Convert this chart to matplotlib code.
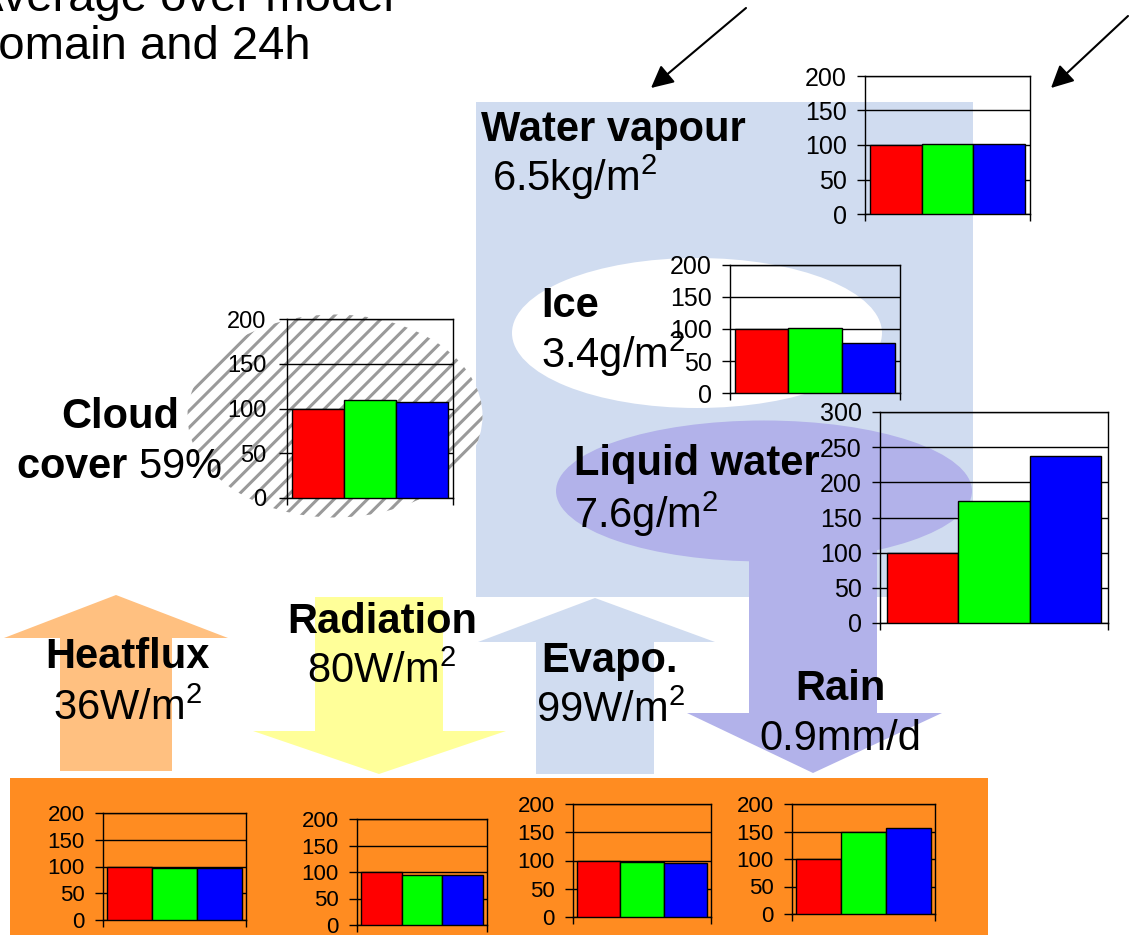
import matplotlib.pyplot as plt
from matplotlib.patches import Ellipse, Polygon, Rectangle

W, H = 1135, 935

# relative values (first run = 100) for the three runs
series_colors = ['#FF0000', '#00FF00', '#0000FF']
vapour_vals = [100, 102, 102]
ice_vals = [100, 101, 78]
liquid_vals = [100, 173, 237]
cloud_vals = [100, 110, 107]
heatflux_vals = [100, 98, 97]
radiation_vals = [100, 94, 94]
evapo_vals = [100, 97, 96]
rain_vals = [100, 149, 156]

plt.rcParams['font.family'] = ['Liberation Sans', 'DejaVu Sans']
plt.rcParams['mathtext.fontset'] = 'custom'
plt.rcParams['mathtext.rm'] = 'Liberation Sans'
plt.rcParams['mathtext.bf'] = 'Liberation Sans:bold'
plt.rcParams['hatch.linewidth'] = 2.2
plt.rcParams['hatch.color'] = '#9a9a9a'

fig = plt.figure(figsize=(W / 100, H / 100), dpi=100)
bg = fig.add_axes([0, 0, 1, 1])
bg.set_xlim(0, W)
bg.set_ylim(H, 0)
bg.axis('off')


def block_arrow(x0, x1, hx0, hx1, tail, base, tip, color):
    xm = (x0 + x1) / 2
    pts = [(x0, tail), (x0, base), (hx0, base), (xm, tip),
           (hx1, base), (x1, base), (x1, tail)]
    bg.add_patch(Polygon(pts, closed=True, fc=color, ec='none'))


# atmosphere column and its water species
bg.add_patch(Rectangle((476, 102), 497, 495, fc='#D0DCF0', ec='none'))
bg.add_patch(Ellipse((697, 333), 370, 150, fc='white', ec='none'))
bg.add_patch(Ellipse((764, 491), 416, 141, fc='#B2B2EA', ec='none'))
block_arrow(749, 877, 687, 942, 540, 713, 773, '#B2B2EA')

# surface fluxes
block_arrow(60, 172, 4, 228, 771, 638, 595, '#FFC080')
block_arrow(315, 443, 253, 506, 597, 731, 774, '#FFFF99')
block_arrow(536, 654, 478, 715, 774, 642, 598, '#D0DCF0')

# ground
bg.add_patch(Rectangle((10, 778), 978, 160, fc='#FF8C21', ec='none'))

# cloud cover
bg.add_patch(Ellipse((335, 416), 295, 203, fc='white', ec='none'))
bg.add_patch(Ellipse((335, 416), 295, 203, fc='none', ec='#9a9a9a',
                     lw=0, hatch='//'))

for start, tip in [((746, 8), (651, 88)), ((1128, 16), (1051, 88))]:
    bg.annotate('', xy=tip, xytext=start,
                arrowprops=dict(arrowstyle='-|>', color='black', lw=1.5,
                                mutation_scale=34, shrinkA=0, shrinkB=0))

big = 30
bg.text(-28, 11, 'Average over model', fontsize=34, va='baseline')
bg.text(-28, 59, 'domain and 24h', fontsize=34, va='baseline')

bg.text(481, 141, 'Water vapour', fontsize=big, weight='bold', va='baseline')
bg.text(492, 191, '6.5kg/m$^{2}$', fontsize=big, va='baseline')
bg.text(541, 317, 'Ice', fontsize=big, weight='bold', va='baseline')
bg.text(541, 368, '3.4g/m$^{2}$', fontsize=big, va='baseline')
bg.text(574, 475, 'Liquid water', fontsize=big, weight='bold', va='baseline')
bg.text(574, 528, '7.6g/m$^{2}$', fontsize=big, va='baseline')
bg.text(120, 428, 'Cloud', fontsize=big, weight='bold', ha='center',
        va='baseline')
bg.text(119, 478, r'$\mathbf{cover}$ 59%', fontsize=big, ha='center',
        va='baseline')
bg.text(127, 668, 'Heatflux', fontsize=big, weight='bold', ha='center',
        va='baseline')
bg.text(127, 720, '36W/m$^{2}$', fontsize=big, ha='center', va='baseline')
bg.text(382, 633, 'Radiation', fontsize=big, weight='bold', ha='center',
        va='baseline')
bg.text(381, 683, '80W/m$^{2}$', fontsize=big, ha='center', va='baseline')
bg.text(609, 672, 'Evapo.', fontsize=big, weight='bold', ha='center',
        va='baseline')
bg.text(610, 722, '99W/m$^{2}$', fontsize=big, ha='center', va='baseline')
bg.text(840, 700, 'Rain', fontsize=big, weight='bold', ha='center',
        va='baseline')
bg.text(840, 750, '0.9mm/d', fontsize=big, ha='center', va='baseline')


def bar_chart(box, vals, ymax=200, size=18, pad=7):
    l, t, r, b = box
    ax = fig.add_axes([l / W, 1 - b / H, (r - l) / W, (b - t) / H])
    ax.bar(range(3), vals, width=1.0, color=series_colors,
           edgecolor='black', linewidth=1, zorder=3)
    ax.set_xlim(-0.6, 2.6)
    ax.set_ylim(0, ymax)
    ax.set_yticks(range(0, ymax + 1, 50))
    ax.set_xticks([-0.6, 2.6])
    ax.set_xticklabels([])
    ax.grid(axis='y', color='black', lw=1)
    ax.set_axisbelow(True)
    ax.patch.set_visible(False)
    ax.tick_params(axis='y', direction='out', length=6, width=1, pad=pad,
                   labelsize=size)
    ax.tick_params(axis='x', direction='out', length=5, width=1)
    for s in ax.spines.values():
        s.set_linewidth(1)
    return ax


bar_chart((865, 76, 1030, 214), vapour_vals)
bar_chart((730, 265, 900, 393), ice_vals)
bar_chart((880, 412, 1108, 623), liquid_vals, ymax=300)
bar_chart((287, 319, 453, 498), cloud_vals, size=17, pad=9)
bar_chart((103, 813, 246, 920), heatflux_vals, size=16)
bar_chart((357, 819, 487, 925), radiation_vals, size=16)
bar_chart((573, 804, 711, 917), evapo_vals, size=16)
bar_chart((792, 804, 935, 914), rain_vals, size=16)

fig.savefig('out.png', dpi=100)
